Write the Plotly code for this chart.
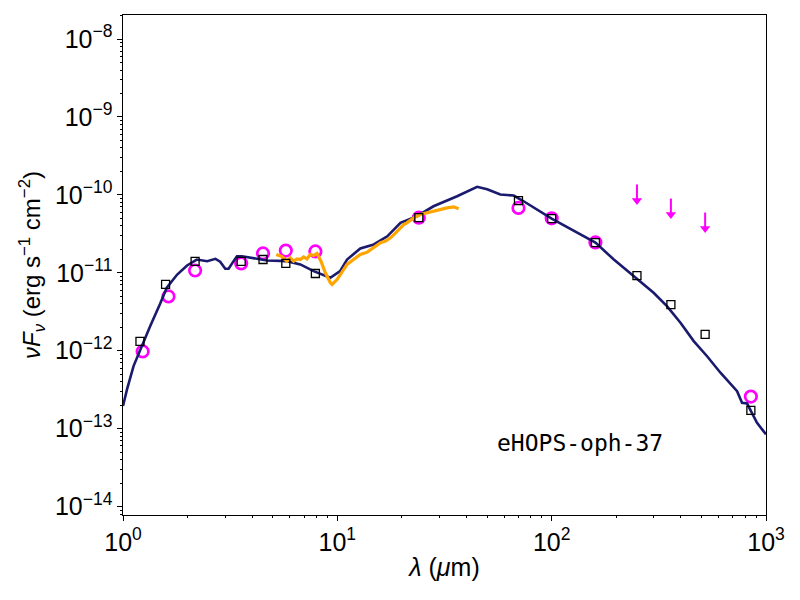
import plotly.graph_objects as go

# ---------------- data ----------------
# photometry (black open squares)
sq_lam = [1.2, 1.58, 2.17, 3.56, 4.5, 5.75, 7.9, 24, 70, 100, 160, 250, 360, 520, 850]
sq_flux = [1.32e-12, 7.1e-12, 1.40e-11, 1.40e-11, 1.48e-11, 1.32e-11, 9.8e-12,
           5.1e-11, 8.45e-11, 4.97e-11, 2.44e-11, 9.2e-12, 3.9e-12, 1.62e-12, 1.72e-13]

# photometry (magenta open circles)
ci_lam = [1.235, 1.63, 2.17, 3.56, 4.5, 5.75, 7.9, 24, 70, 100, 160, 850]
ci_flux = [9.8e-13, 4.97e-12, 1.07e-11, 1.32e-11, 1.77e-11, 1.93e-11, 1.88e-11,
           5.1e-11, 6.8e-11, 5.0e-11, 2.45e-11, 2.58e-13]

# upper limits (magenta arrows)
ul_lam = [250, 360, 520]
ul_flux = [1.36e-10, 8.97e-11, 5.93e-11]

# IRS spectrum (orange)
irs_lam = [5.19, 5.5, 5.83, 6.03, 6.25, 6.49, 6.72, 6.96, 7.22, 7.48, 7.75, 8.04,
           8.4, 8.79, 9.28, 9.45, 9.97, 10.5, 11.1, 11.9, 12.8, 13.8, 14.8, 15.9,
           16.8, 17.7, 18.6, 19.7, 20.4, 21.1, 22.7, 24.4, 26.2, 29.2, 32.5, 34.9, 36.8]
irs_flux = [1.72e-11, 1.62e-11, 1.41e-11, 1.56e-11, 1.41e-11, 1.51e-11, 1.48e-11,
            1.60e-11, 1.51e-11, 1.72e-11, 1.67e-11, 1.77e-11, 1.40e-11, 1.0e-11,
            7.45e-12, 7.08e-12, 8.2e-12, 1.0e-11, 1.28e-11, 1.48e-11, 1.72e-11,
            1.84e-11, 2.09e-11, 2.43e-11, 2.55e-11, 2.81e-11, 3.2e-11, 3.78e-11,
            4.16e-11, 4.38e-11, 5.07e-11, 5.59e-11, 5.88e-11, 6.35e-11, 6.81e-11,
            7.02e-11, 6.62e-11]

# model SED (navy line)
mod_lam = [1.0, 1.044, 1.12, 1.204, 1.34, 1.49, 1.60, 1.79, 1.99, 2.21, 2.47, 2.70,
           2.84, 3.0, 3.11, 3.28, 3.40, 3.59, 4.07, 4.70, 5.82, 6.72, 7.75, 9.27,
           10.3, 11.1, 12.8, 14.8, 17.1, 19.7, 23.5, 28.1, 36.2, 44.9, 50.0, 57.6,
           66.5, 74, 100, 131, 160, 195, 241, 299, 345, 399, 460, 531, 613, 733,
           773, 816, 908, 1000]
mod_flux = [1.95e-13, 3.19e-13, 6.35e-13, 1.04e-12, 2.07e-12, 4.0e-12, 6.43e-12,
            9.5e-12, 1.24e-11, 1.48e-11, 1.41e-11, 1.51e-11, 1.39e-11, 1.125e-11,
            1.125e-11, 1.41e-11, 1.63e-11, 1.63e-11, 1.55e-11, 1.44e-11, 1.41e-11,
            1.28e-11, 1.05e-11, 8.63e-12, 1.05e-11, 1.48e-11, 2.05e-11, 2.31e-11,
            2.94e-11, 4.38e-11, 5.32e-11, 7.14e-11, 9.6e-11, 1.27e-10, 1.18e-10,
            1.01e-10, 9.8e-11, 8.28e-11, 4.97e-11, 3.26e-11, 2.44e-11, 1.48e-11,
            9.04e-12, 5.54e-12, 3.73e-12, 2.29e-12, 1.33e-12, 8.5e-13, 5.22e-13,
            3.03e-13, 2.15e-13, 2.1e-13, 1.19e-13, 8.45e-14]

x_tickvals = [1, 10, 100, 1000]
x_ticktext = ["10<sup>0</sup>", "10<sup>1</sup>", "10<sup>2</sup>", "10<sup>3</sup>"]
y_tickvals = [1e-14, 1e-13, 1e-12, 1e-11, 1e-10, 1e-9, 1e-8]
y_ticktext = ["10<sup>\u221214</sup>", "10<sup>\u221213</sup>", "10<sup>\u221212</sup>",
              "10<sup>\u221211</sup>", "10<sup>\u221210</sup>", "10<sup>\u22129</sup>",
              "10<sup>\u22128</sup>"]
source_name = "eHOPS-oph-37"

# ---------------- figure ----------------
NAVY = "#1a1a6e"
ORANGE = "#ffa500"
MAGENTA = "#ff00ff"

fig = go.Figure()

fig.add_trace(go.Scatter(x=ci_lam, y=ci_flux, mode="markers",
                         marker=dict(symbol="circle-open", size=11.5, color=MAGENTA,
                                     line=dict(width=2.7, color=MAGENTA)),
                         showlegend=False))

fig.add_trace(go.Scatter(x=mod_lam, y=mod_flux, mode="lines",
                         line=dict(color=NAVY, width=2.6), showlegend=False))

fig.add_trace(go.Scatter(x=irs_lam, y=irs_flux, mode="lines",
                         line=dict(color=ORANGE, width=3.2), showlegend=False))

fig.add_trace(go.Scatter(x=sq_lam, y=sq_flux, mode="markers",
                         marker=dict(symbol="square-open", size=8, color="black",
                                     line=dict(width=1.3, color="black")),
                         showlegend=False))

# upper-limit arrows: shaft + head below each limit value
shaft_factor = 10 ** (-15.0 / 78.0)
head_factor = 10 ** (-16.0 / 78.0)
sx, sy = [], []
for lam, f in zip(ul_lam, ul_flux):
    sx += [lam, lam, None]
    sy += [f, f * shaft_factor, None]
fig.add_trace(go.Scatter(x=sx, y=sy, mode="lines",
                         line=dict(color=MAGENTA, width=2), showlegend=False))
fig.add_trace(go.Scatter(x=ul_lam, y=[f * head_factor for f in ul_flux], mode="markers",
                         marker=dict(symbol="triangle-down", size=9, color=MAGENTA,
                                     line=dict(width=0)),
                         showlegend=False))

minor_x = [m * 10 ** d for d in range(0, 3) for m in range(2, 10)]
minor_y = [m * 10.0 ** d for d in range(-15, -7) for m in range(2, 10)]

FONT = "Liberation Sans, Arial, sans-serif"

# page body adds an 8px margin, so the figure is 792x592 and margins shift by 8px
fig.update_layout(
    width=792, height=592,
    margin=dict(l=115, r=34, t=7, b=85),
    paper_bgcolor="white", plot_bgcolor="white",
    font=dict(family=FONT, color="black"),
    xaxis=dict(type="log", range=[0, 3],
               tickvals=x_tickvals, ticktext=x_ticktext,
               ticks="outside", ticklen=4.5, tickwidth=1, tickcolor="black",
               showline=True, linecolor="black", linewidth=1.2, mirror=True,
               showgrid=False, zeroline=False,
               tickfont=dict(size=25, family=FONT),
               minor=dict(tickvals=minor_x, ticks="outside", ticklen=2.2,
                          tickcolor="black", showgrid=False),
               title=dict(text="<i>\u03bb</i> (<i>\u03bc</i>m)", font=dict(size=25, family=FONT),
                          standoff=3)),
    yaxis=dict(type="log", range=[-14.108, -7.692],
               tickvals=y_tickvals, ticktext=y_ticktext,
               ticks="outside", ticklen=4.5, tickwidth=1, tickcolor="black",
               showline=True, linecolor="black", linewidth=1.2, mirror=True,
               showgrid=False, zeroline=False,
               tickfont=dict(size=25, family=FONT),
               minor=dict(tickvals=minor_y, ticks="outside", ticklen=2.2,
                          tickcolor="black", showgrid=False),
               title=dict(text="<i>\u03bdF<sub>\u03bd</sub></i> (erg s<sup>\u22121</sup> cm<sup>\u22122</sup>)",
                          font=dict(size=24, family=FONT), standoff=7)),
    annotations=[dict(text=source_name, xref="paper", yref="paper",
                      x=0.71, y=0.145, xanchor="center", yanchor="middle",
                      showarrow=False,
                      font=dict(family="DejaVu Sans Mono", size=23, color="black"))],
)

fig.write_html("out.html")
